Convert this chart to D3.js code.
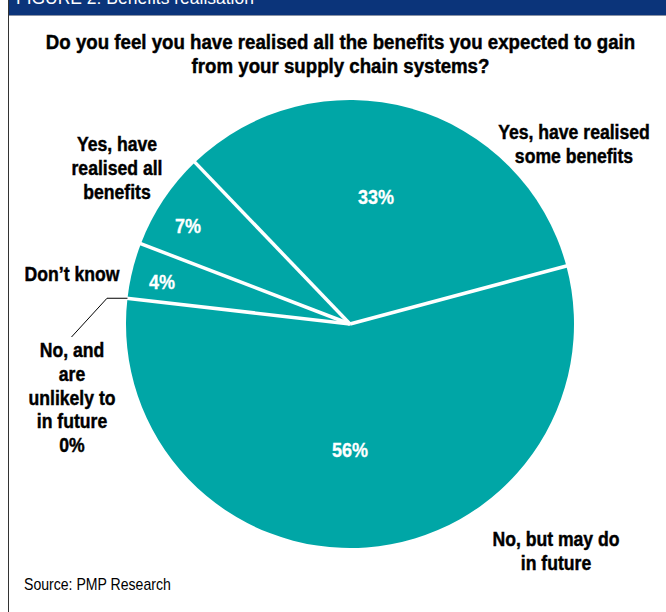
<!DOCTYPE html>
<html>
<head>
<meta charset="utf-8">
<script src="https://cdn.jsdelivr.net/npm/d3@7"></script>
<style>
  html, body { margin: 0; padding: 0; background: #fff; }
  svg { display: block; }
  text { font-family: "Liberation Sans", Arial, sans-serif; }
</style>
</head>
<body>
<svg id="chart" width="666" height="612"></svg>
<script>
// Survey answers, in the order the slices are laid out clockwise
const categories = [
  "No, but may do in future",
  "No, and are unlikely to in future",
  "Don\u2019t know",
  "Yes, have realised all benefits",
  "Yes, have realised some benefits"
];
const shares = [56, 0, 4, 7, 33];
const shareLabels = ["56%", "0%", "4%", "7%", "33%"];

const titleLines = [
  "Do you feel you have realised all the benefits you expected to gain",
  "from your supply chain systems?"
];

const svg = d3.select("#chart");
const W = 666, H = 612;

// condensed heavy text: bold face squeezed horizontally around its anchor,
// with a hairline stroke to thicken the strokes
function narrowText(parent, str, x, y, size, sx, fill, anchor = "middle", weight = "bold", heavy = 0.45) {
  return parent.append("text")
    .attr("transform", `translate(${x},${y}) scale(${sx},1)`)
    .attr("text-anchor", anchor)
    .attr("font-weight", weight)
    .attr("font-size", size + "px")
    .attr("fill", fill)
    .attr("stroke", heavy ? fill : "none")
    .attr("stroke-width", heavy)
    .text(str);
}

// header band and frame
svg.append("rect").attr("x", 8).attr("y", 0).attr("width", W - 8).attr("height", 15).attr("fill", "#0b347a");
svg.append("line").attr("x1", 8).attr("x2", W).attr("y1", 15.5).attr("y2", 15.5).attr("stroke", "#8a93a6").attr("stroke-width", 1);
svg.append("line").attr("x1", 8.5).attr("x2", 8.5).attr("y1", 0).attr("y2", H).attr("stroke", "#333").attr("stroke-width", 1);
narrowText(svg, "FIGURE 2: Benefits realisation", 16, 4, 19, 0.92, "#fff", "start", "normal", 0);

// title
const tg = svg.append("g");
titleLines.forEach((t, i) => narrowText(tg, t, 340.5, 49 + i * 23.5, 21, 0.89, "#000"));

// pie
const cx = 350, cy = 324, R = 224;
const toRad = a => a * Math.PI / 180;
const start = toRad(75);
const pie = d3.pie().sort(null).value(d => d).startAngle(start).endAngle(start + 2 * Math.PI);
const arcs = pie(shares);
const arc = d3.arc().innerRadius(0).outerRadius(R);

const g = svg.append("g").attr("transform", `translate(${cx},${cy})`);
g.selectAll("path").data(arcs).join("path")
  .attr("d", arc).attr("fill", "#00a6a6");

// white separators between slices
g.selectAll("line.sep").data(arcs.filter(d => d.index !== 1)).join("line")
  .attr("class", "sep")
  .attr("x1", 0).attr("y1", 0)
  .attr("x2", d => Math.sin(d.startAngle) * (R + 1))
  .attr("y2", d => -Math.cos(d.startAngle) * (R + 1))
  .attr("stroke", "#fff").attr("stroke-width", 3.5);

// percentage labels inside the slices
const inner = [
  { i: 0, x: 350, y: 457 },
  { i: 2, x: 162, y: 289 },
  { i: 3, x: 188, y: 233 },
  { i: 4, x: 376, y: 204 }
];
const ig = svg.append("g");
inner.forEach(d => narrowText(ig, shareLabels[d.i], d.x, d.y, 20, 0.9, "#fff", "middle", "bold", 0.3));

// outside category labels
const outside = [
  { lines: ["Yes, have realised", "some benefits"], x: 574, y: 139 },
  { lines: ["Yes, have", "realised all", "benefits"], x: 117, y: 151 },
  { lines: ["Don\u2019t know"], x: 72, y: 281 },
  { lines: ["No, and", "are", "unlikely to", "in future", shareLabels[1]], x: 72, y: 357 },
  { lines: ["No, but may do", "in future"], x: 556, y: 546 }
];
const og = svg.append("g");
outside.forEach(o => {
  o.lines.forEach((t, i) => narrowText(og, t, o.x, o.y + i * 23.8, 20, 0.88, "#000"));
});

// leader for the empty slice
const a0 = arcs[1].startAngle;
const ex = cx + Math.sin(a0) * R, ey = cy - Math.cos(a0) * R;
svg.append("polyline")
  .attr("points", `71.5,337 107,${ey} ${ex},${ey}`)
  .attr("fill", "none").attr("stroke", "#000").attr("stroke-width", 1);

// source
narrowText(svg, "Source: PMP Research", 24, 590, 16, 0.88, "#000", "start", "normal", 0);
</script>
</body>
</html>
